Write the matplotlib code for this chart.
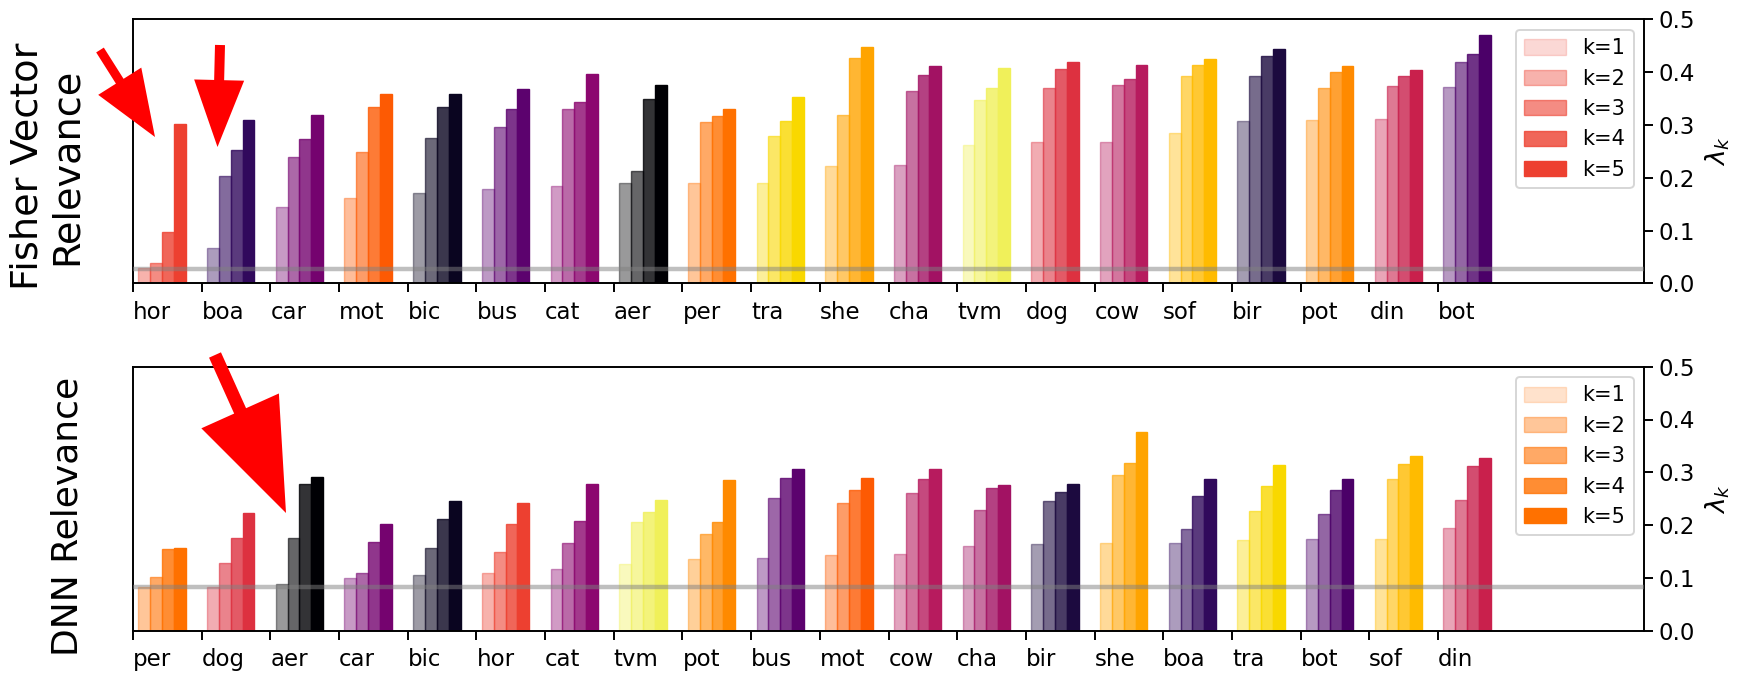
import matplotlib
matplotlib.use("Agg")
import matplotlib.pyplot as plt
from matplotlib.patches import Patch, FancyArrowPatch
from matplotlib.transforms import IdentityTransform

# ---------------- data ----------------
fv_categories = ["hor", "boa", "car", "mot", "bic", "bus", "cat", "aer", "per", "tra",
                 "she", "cha", "tvm", "dog", "cow", "sof", "bir", "pot", "din", "bot"]
# lambda_k for k = 2..5 (bars drawn per category)
fv_lambda = [
    [0.029, 0.039, 0.098, 0.301],
    [0.067, 0.203, 0.252, 0.310],
    [0.145, 0.240, 0.273, 0.319],
    [0.162, 0.249, 0.335, 0.358],
    [0.171, 0.276, 0.335, 0.359],
    [0.179, 0.297, 0.331, 0.369],
    [0.185, 0.331, 0.343, 0.396],
    [0.190, 0.213, 0.350, 0.376],
    [0.191, 0.305, 0.317, 0.330],
    [0.191, 0.279, 0.308, 0.354],
    [0.223, 0.319, 0.427, 0.447],
    [0.225, 0.364, 0.395, 0.411],
    [0.263, 0.348, 0.371, 0.409],
    [0.268, 0.371, 0.407, 0.419],
    [0.268, 0.376, 0.388, 0.414],
    [0.284, 0.393, 0.414, 0.426],
    [0.308, 0.393, 0.430, 0.444],
    [0.310, 0.371, 0.400, 0.412],
    [0.311, 0.374, 0.392, 0.405],
    [0.372, 0.419, 0.435, 0.470],
]
fv_baseline = 0.028

dnn_categories = ["per", "dog", "aer", "car", "bic", "hor", "cat", "tvm", "pot", "bus",
                  "mot", "cow", "cha", "bir", "she", "boa", "tra", "bot", "sof", "din"]
dnn_lambda = [
    [0.082, 0.101, 0.154, 0.157],
    [0.082, 0.129, 0.175, 0.222],
    [0.088, 0.176, 0.278, 0.291],
    [0.099, 0.110, 0.168, 0.203],
    [0.105, 0.157, 0.211, 0.246],
    [0.109, 0.150, 0.203, 0.242],
    [0.116, 0.167, 0.208, 0.278],
    [0.126, 0.205, 0.224, 0.247],
    [0.136, 0.184, 0.205, 0.285],
    [0.138, 0.252, 0.289, 0.306],
    [0.143, 0.241, 0.266, 0.289],
    [0.146, 0.261, 0.288, 0.307],
    [0.161, 0.228, 0.271, 0.276],
    [0.164, 0.246, 0.263, 0.278],
    [0.166, 0.294, 0.318, 0.377],
    [0.166, 0.193, 0.255, 0.288],
    [0.172, 0.227, 0.274, 0.313],
    [0.174, 0.221, 0.266, 0.288],
    [0.174, 0.288, 0.315, 0.330],
    [0.194, 0.247, 0.311, 0.327],
]
dnn_baseline = 0.082

legend_labels = ["k=1", "k=2", "k=3", "k=4", "k=5"]
y_ticks = [0.0, 0.1, 0.2, 0.3, 0.4, 0.5]

# ---------------- style ----------------
class_colors = {
    "hor": "#ed4030", "boa": "#31095c", "car": "#75036f", "mot": "#fd5a03",
    "bic": "#0a0520", "bus": "#5c026e", "cat": "#8c076f", "aer": "#000004",
    "per": "#ff7100", "tra": "#f9d800", "she": "#ffa400", "cha": "#a21263",
    "tvm": "#f0f05a", "dog": "#dd3140", "cow": "#b71b5e", "sof": "#ffbb00",
    "bir": "#1c0a3f", "pot": "#ff8a00", "din": "#c9204c", "bot": "#4b0068",
}
bar_alphas = [0.4, 0.6, 0.8, 1.0]
legend_alphas = [0.2, 0.4, 0.6, 0.8, 1.0]
bar_w = 0.1725
TICK_FS = 16.5

W, H = 1744, 677
fig = plt.figure(figsize=(W / 100, H / 100), dpi=100)


def px_rect(left, top, right, bottom):
    return [left / W, 1 - bottom / H, (right - left) / W, (bottom - top) / H]


ax_top = fig.add_axes(px_rect(133, 19.5, 1644, 283.3))
ax_bot = fig.add_axes(px_rect(133, 366.7, 1644, 630.7))


def draw_panel(ax, cats, vals, baseline):
    for i, (c, v) in enumerate(zip(cats, vals)):
        col = class_colors[c]
        for j, (h, a) in enumerate(zip(v, bar_alphas)):
            ax.bar(i + 0.079 + j * bar_w, h, width=bar_w, align="edge",
                   color=col, edgecolor=col, linewidth=1.0, alpha=a, zorder=2)
    ax.axhline(baseline, color="gray", alpha=0.5, linewidth=3.2, zorder=3)
    ax.set_xlim(0, 22)
    ax.set_ylim(0, 0.5)
    ax.set_xticks(range(len(cats)))
    ax.set_xticklabels(cats, ha="left", fontsize=TICK_FS)
    ax.yaxis.tick_right()
    ax.yaxis.set_label_position("right")
    ax.set_yticks(y_ticks)
    ax.set_yticklabels([f"{t:.1f}" for t in y_ticks], fontsize=TICK_FS)
    ax.set_ylabel(r"$\lambda_k$", fontsize=19, labelpad=6)
    ax.tick_params(axis="both", direction="out", length=6.5, width=1.4, pad=4)
    ax.tick_params(axis="x", pad=6)
    for s in ax.spines.values():
        s.set_linewidth(1.4)
    lc = class_colors[cats[0]]
    handles = [Patch(facecolor=lc, edgecolor=lc, alpha=a, linewidth=1.0)
               for a in legend_alphas]
    leg = ax.legend(handles, legend_labels, loc="upper right", fontsize=15,
                    handlelength=2.0, handleheight=0.75)
    leg.get_frame().set_linewidth(1.4)


draw_panel(ax_top, fv_categories, fv_lambda, fv_baseline)
draw_panel(ax_bot, dnn_categories, dnn_lambda, dnn_baseline)

fig.text(47 / W, 1 - 166 / H, "Fisher Vector\nRelevance", rotation=90,
         ha="center", va="center", fontsize=27.5, linespacing=1.1)
fig.text(68 / W, 1 - 516 / H, "DNN Relevance", rotation=90,
         ha="center", va="center", fontsize=26)


# red arrows (figure pixel coordinates, y measured from top)
def red_arrow(tail, tip, head_len, head_w, tail_w):
    k = 0.72  # px -> pt at 100 dpi
    style = (f"simple,head_length={head_len * k:.1f},head_width={head_w * k:.1f},"
             f"tail_width={tail_w * k:.1f}")
    arr = FancyArrowPatch((tail[0], H - tail[1]), (tip[0], H - tip[1]),
                          arrowstyle=style, mutation_scale=1, color="#ff0000",
                          linewidth=0, shrinkA=0, shrinkB=0,
                          transform=IdentityTransform(), zorder=10)
    arr.set_clip_on(False)
    fig.add_artist(arr)


red_arrow((100, 50), (155, 137), 66, 51, 9)
red_arrow((220, 45), (217.5, 147), 67, 50, 10)
red_arrow((215, 355), (286, 513), 112, 85, 13)

fig.savefig("out.png", dpi=100)
